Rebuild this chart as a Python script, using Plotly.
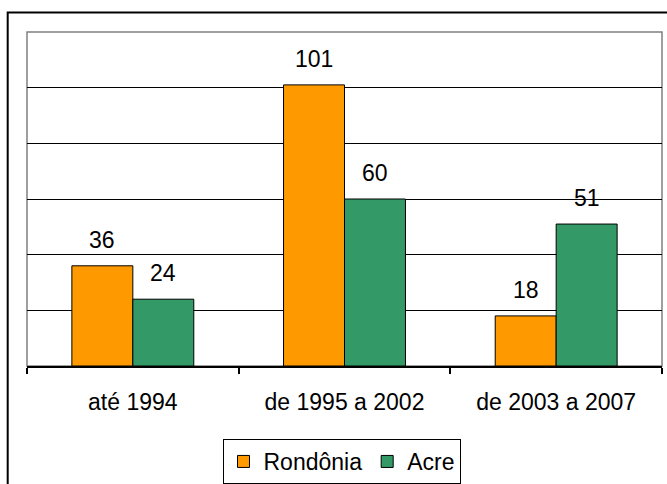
import plotly.graph_objects as go

categories = ["até 1994", "de 1995 a 2002", "de 2003 a 2007"]
rondonia = [36, 101, 18]
acre = [24, 60, 51]
series_names = ["Rondônia", "Acre"]
series_colors = ["#FF9900", "#339966"]
grid_values = [20, 40, 60, 80, 100]

FONT = "Liberation Sans, Arial, sans-serif"
FS = 23
W, H = 667, 484
ML, MR, MT, MB = 27, 5, 32, 118
PW = W - ML - MR
PH = H - MT - MB
BARGAP = 0.424
bar_px = PW / len(categories) * (1 - BARGAP) / 2

fig = go.Figure()
for name, vals, col in zip(series_names, [rondonia, acre], series_colors):
    fig.add_trace(go.Bar(
        x=categories, y=vals, name=name,
        marker=dict(color=col, line=dict(color="black", width=1)),
        hoverinfo="x+y+name",
    ))

annotations = []
for k, vals in enumerate([rondonia, acre]):
    shift = (-0.5 if k == 0 else 0.5) * bar_px
    for c, v in zip(categories, vals):
        annotations.append(dict(
            x=c, y=v, text=str(v), showarrow=False,
            xshift=shift, yshift=11, yanchor="bottom",
            font=dict(family=FONT, size=FS, color="black"),
        ))

shapes = [
    # plot area border (gray)
    dict(type="rect", xref="paper", yref="paper", x0=0, x1=1, y0=0, y1=1,
         line=dict(color="#808080", width=1.5), layer="below"),
    # chart area outer border (black)
    dict(type="rect", xref="paper", yref="paper",
         x0=(7.7 - ML) / PW, x1=(W + 40 - ML) / PW,
         y0=-(H + 40 - MT - PH) / PH, y1=(PH + MT - 12.5) / PH,
         line=dict(color="black", width=2), layer="above"),
]

fig.update_layout(
    width=W, height=H,
    margin=dict(l=ML, r=MR, t=MT, b=MB, pad=0, autoexpand=False),
    paper_bgcolor="white", plot_bgcolor="white",
    font=dict(family=FONT, size=FS, color="black"),
    barmode="group", bargap=BARGAP, bargroupgap=0,
    showlegend=True,
    legend=dict(
        orientation="h", x=(341.5 - ML) / PW, xanchor="center",
        y=-(439 - MT - PH) / PH, yanchor="top",
        bordercolor="black", borderwidth=1, bgcolor="white",
        font=dict(family=FONT, size=FS, color="black"),
        itemwidth=30,
    ),
    annotations=annotations,
    shapes=shapes,
)
fig.update_xaxes(
    showline=True, linecolor="black", linewidth=1.5,
    ticks="outside", ticklen=6, tickcolor="black", tickwidth=1.5,
    tickson="boundaries", showgrid=False, automargin=False,
    tickfont=dict(family=FONT, size=FS, color="black"),
    ticklabelstandoff=15,
)
fig.update_yaxes(
    range=[0, 120], tickvals=grid_values, showticklabels=False,
    showgrid=True, gridcolor="black", gridwidth=1,
    zeroline=False, showline=False, ticks="", automargin=False,
)

fig.write_html(
    "out.html",
    config={"displayModeBar": False},
    post_script="document.body.style.margin='0';document.body.style.padding='0';",
)
